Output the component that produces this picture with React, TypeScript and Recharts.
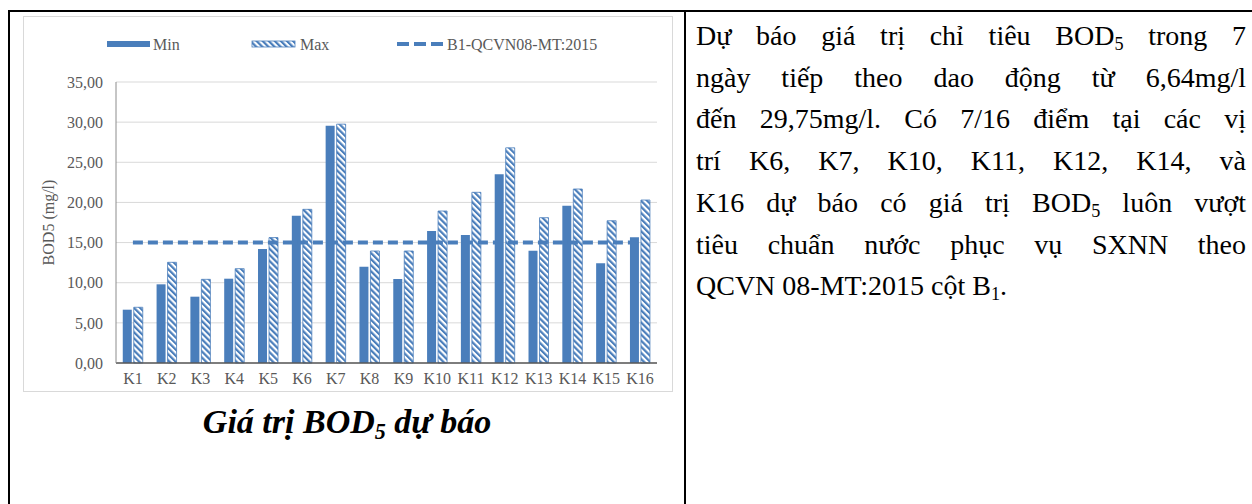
import React from "react";
import {
  ComposedChart,
  Bar,
  Line,
  XAxis,
  YAxis,
  CartesianGrid,
  Legend,
  Label,
} from "recharts";

const CATEGORIES = ["K1", "K2", "K3", "K4", "K5", "K6", "K7", "K8", "K9", "K10", "K11", "K12", "K13", "K14", "K15", "K16"];
const MIN_VALUES = [6.64, 9.8, 8.26, 10.5, 14.2, 18.35, 29.55, 12.0, 10.46, 16.44, 15.94, 23.5, 13.99, 19.59, 12.41, 15.65];
const MAX_VALUES = [6.94, 12.54, 10.42, 11.75, 15.62, 19.14, 29.75, 13.95, 13.95, 18.93, 21.26, 26.8, 18.1, 21.67, 17.72, 20.3];
const B1_LIMIT = 15;
const Y_TICKS = [0, 5, 10, 15, 20, 25, 30, 35];

const TEXT_LINES = [
  ["Dự báo giá trị chỉ tiêu BOD", "5", " trong 7"],
  ["ngày tiếp theo dao động từ 6,64mg/l"],
  ["đến 29,75mg/l. Có 7/16 điểm tại các vị"],
  ["trí K6, K7, K10, K11, K12, K14, và"],
  ["K16 dự báo có giá trị BOD", "5", " luôn vượt"],
  ["tiêu chuẩn nước phục vụ SXNN theo"],
  ["QCVN 08-MT:2015 cột B", "1", "."],
];

const data = CATEGORIES.map((name, i) => ({
  name,
  min: MIN_VALUES[i],
  max: MAX_VALUES[i],
  b1: B1_LIMIT,
}));

const BLUE = "#4A7EBB";
const GRAY_TEXT = "#595959";
const FONT = "'Liberation Serif', 'Times New Roman', serif";

const fmt = (v: number) => v.toFixed(2).replace(".", ",");

function HatchPattern({ id }: { id: string }) {
  return (
    <pattern id={id} patternUnits="userSpaceOnUse" width="4.3" height="4.3" patternTransform="rotate(-45)">
      <rect width="4.3" height="4.3" fill="#fff" />
      <rect width="2.2" height="4.3" fill={BLUE} />
    </pattern>
  );
}

function LegendContent() {
  const t = { fontFamily: FONT, fontSize: 16, fill: GRAY_TEXT };
  return (
    <svg width={650} height={20}>
      <defs>
        <HatchPattern id="hatchLegend" />
      </defs>
      <rect x={84} y={7} width={43} height={6} fill={BLUE} />
      <text x={130} y={15.5} {...t}>Min</text>
      <rect x={229} y={7} width={43} height={6} fill="url(#hatchLegend)" stroke={BLUE} strokeWidth={0.8} />
      <text x={277} y={15.5} {...t}>Max</text>
      <line x1={374} x2={420} y1={10} y2={10} stroke={BLUE} strokeWidth={4} strokeDasharray="12 5" />
      <text x={424} y={15.5} {...t}>B1-QCVN08-MT:2015</text>
    </svg>
  );
}

function YLabel(props: any) {
  const vb = props.viewBox || { y: 66, height: 281 };
  const cy = vb.y + vb.height / 2;
  return (
    <text
      x={25}
      y={cy}
      transform={`rotate(-90, 25, ${cy})`}
      textAnchor="middle"
      dominantBaseline="central"
      fontFamily={FONT}
      fontSize={16}
      fill={GRAY_TEXT}
    >
      BOD5 (mg/l)
    </text>
  );
}

const subStyle: React.CSSProperties = { fontSize: "0.65em", verticalAlign: "-0.25em", lineHeight: 0 };

export default function App() {
  return (
    <div style={{ position: "absolute", left: 0, top: 0, width: 1252, height: 504, background: "#fff", overflow: "hidden" }}>
      {/* table borders */}
      <div style={{ position: "absolute", left: 8, top: 10, width: 1244, height: 2, background: "#000" }} />
      <div style={{ position: "absolute", left: 8, top: 10, width: 2, height: 494, background: "#000" }} />
      <div style={{ position: "absolute", left: 684, top: 10, width: 2, height: 494, background: "#000" }} />

      {/* chart */}
      <div style={{ position: "absolute", left: 23, top: 16, width: 650, height: 376 }}>
        <ComposedChart
          width={650}
          height={376}
          data={data}
          margin={{ top: 66, right: 16, bottom: 0, left: 0 }}
          barCategoryGap="20%"
          barGap={2}
        >
          <defs>
            <HatchPattern id="hatchBar" />
          </defs>
          <CartesianGrid vertical={false} stroke="#d9d9d9" />
          <XAxis
            dataKey="name"
            height={29}
            tickLine={false}
            tickSize={0}
            tickMargin={10}
            axisLine={{ stroke: "#595959", strokeWidth: 1.5 }}
            tick={{ fontFamily: FONT, fontSize: 16, fill: GRAY_TEXT }}
            interval={0}
          />
          <YAxis
            width={93}
            domain={[0, 35]}
            ticks={Y_TICKS}
            tickFormatter={fmt}
            tickLine={false}
            tickSize={0}
            tickMargin={13}
            axisLine={{ stroke: "#8c8c8c" }}
            tick={{ fontFamily: FONT, fontSize: 16, fill: GRAY_TEXT }}
          >
            <Label content={YLabel} />
          </YAxis>
          <Legend
            verticalAlign="middle"
            align="center"
            layout="horizontal"
            wrapperStyle={{ top: 18, left: 0, width: 650, height: 20 }}
            content={LegendContent}
          />
          <Bar dataKey="min" name="Min" fill={BLUE} isAnimationActive={false} />
          <Bar dataKey="max" name="Max" fill="url(#hatchBar)" stroke={BLUE} strokeWidth={0.8} isAnimationActive={false} />
          <Line
            dataKey="b1"
            name="B1-QCVN08-MT:2015"
            stroke={BLUE}
            strokeWidth={4}
            strokeDasharray="10 5"
            dot={false}
            activeDot={false}
            isAnimationActive={false}
          />
        </ComposedChart>
      </div>
      <div style={{ position: "absolute", left: 23, top: 16, width: 650, height: 376, border: "1px solid #d9d9d9", boxSizing: "border-box", pointerEvents: "none" }} />

      {/* caption */}
      <div
        style={{
          position: "absolute",
          left: 10,
          width: 674,
          top: 402,
          textAlign: "center",
          fontFamily: FONT,
          fontSize: 34,
          fontWeight: "bold",
          fontStyle: "italic",
          lineHeight: "40px",
        }}
      >
        Giá trị BOD<sub style={subStyle}>5</sub> dự báo
      </div>

      {/* description text */}
      <div style={{ position: "absolute", left: 696, top: 15, width: 550, fontFamily: FONT, fontSize: 28, lineHeight: "41.7px", color: "#000" }}>
        {TEXT_LINES.map((parts, i) => (
          <div
            key={i}
            style={{
              textAlign: i === TEXT_LINES.length - 1 ? "left" : "justify",
              textAlignLast: i === TEXT_LINES.length - 1 ? "left" : "justify",
              whiteSpace: "nowrap",
            }}
          >
            {parts.map((p, j) => (j % 2 === 1 ? <sub key={j} style={subStyle}>{p}</sub> : <span key={j}>{p}</span>))}
          </div>
        ))}
      </div>
    </div>
  );
}
